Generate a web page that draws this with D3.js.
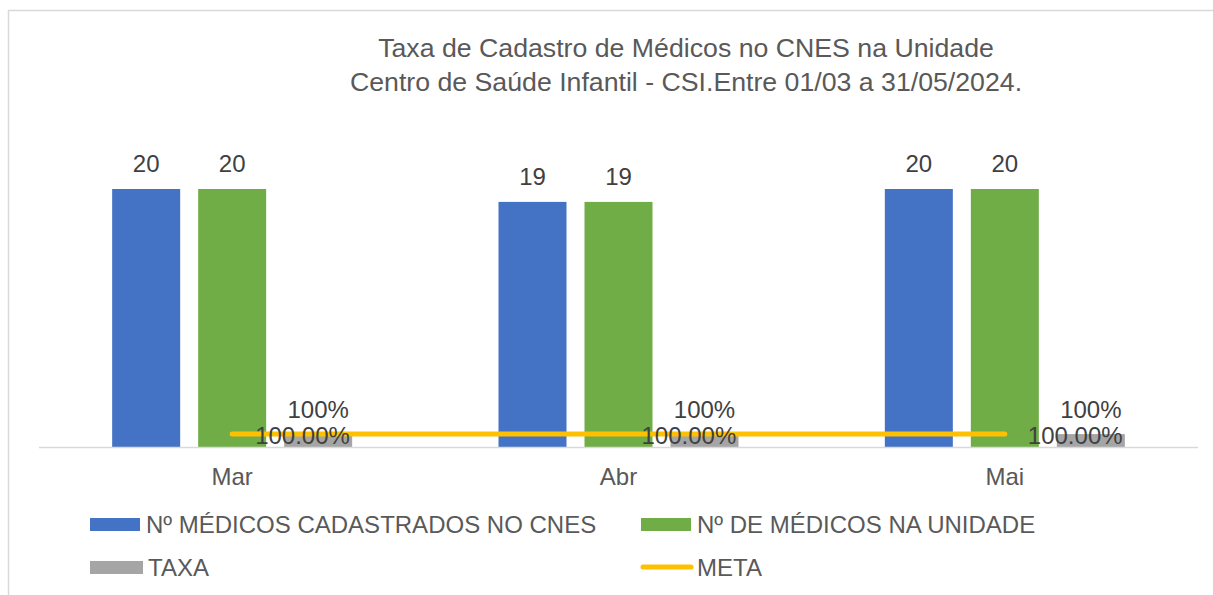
<!DOCTYPE html>
<html><head><meta charset="utf-8">
<script src="https://cdn.jsdelivr.net/npm/d3@7"></script>
<style>body{margin:0;background:#fff;}svg{display:block;font-family:"Liberation Sans",Arial,sans-serif;}</style>
</head><body>
<svg id="c" width="1213" height="595"></svg>
<script>
const categories = ["Mar", "Abr", "Mai"];
const cadastrados = [20, 19, 20];
const naUnidade = [20, 19, 20];
const taxa = [1, 1, 1];
const meta = [1, 1, 1];
const taxaLabels = ["100%", "100%", "100%"];
const metaLabels = ["100.00%", "100.00%", "100.00%"];
const titleLines = ["Taxa de Cadastro de Médicos no CNES na Unidade", "Centro de Saúde Infantil - CSI.Entre 01/03 a 31/05/2024."];
const seriesNames = ["Nº MÉDICOS CADASTRADOS NO CNES", "Nº DE MÉDICOS NA UNIDADE", "TAXA", "META"];
const colors = ["#4472C4", "#70AD47", "#A5A5A5", "#FFC000"];

const svg = d3.select("#c");
// frame
svg.append("path").attr("d","M8.5,595 L8.5,10.5 L1213,10.5").attr("fill","none").attr("stroke","#d9d9d9").attr("stroke-width",1.5);

svg.append("g").selectAll("text").data(titleLines).join("text")
  .attr("x",686).attr("y",(d,i)=>57+i*34).attr("text-anchor","middle")
  .attr("font-size",26.7).attr("fill","#595959").text(d=>d);

const x = d3.scaleBand().domain(categories).range([39,1198]);
const y = d3.scaleLinear().domain([0,25]).range([447,124.5]);
const groupW = 240;
const inner = d3.scaleBand().domain([0,1,2])
  .range([(x.bandwidth()-groupW)/2,(x.bandwidth()+groupW)/2]).paddingInner(18/86).paddingOuter(0);

const barSeries = [cadastrados, naUnidade, taxa];
barSeries.forEach((vals, si) => {
  const g = svg.append("g");
  g.selectAll("rect").data(vals).join("rect")
    .attr("x",(d,i)=>x(categories[i])+inner(si)).attr("width",inner.bandwidth())
    .attr("y",d=>y(d)).attr("height",d=>y(0)-y(d)).attr("fill",colors[si]);
});

// axis line
svg.append("line").attr("x1",39).attr("x2",1198).attr("y1",447.5).attr("y2",447.5).attr("stroke","#d9d9d9").attr("stroke-width",1.5);
const xAxis = svg.append("g").attr("transform","translate(0,447)")
  .call(d3.axisBottom(x).tickSize(0).tickPadding(21));
xAxis.select(".domain").remove();
xAxis.selectAll("text").attr("font-size",24).attr("fill","#595959").attr("font-family","Liberation Sans, Arial, sans-serif");

// value labels
[cadastrados, naUnidade].forEach((vals, si) => {
  svg.append("g").selectAll("text").data(vals).join("text")
    .attr("x",(d,i)=>x(categories[i])+inner(si)+inner.bandwidth()/2)
    .attr("y",d=>y(d)-17).attr("text-anchor","middle")
    .attr("font-size",24).attr("fill","#404040").text(d=>d);
});

// meta line
const line = d3.line().x((d,i)=>x(categories[i])+x.bandwidth()/2).y(d=>y(d));
svg.append("path").datum(meta).attr("d",line).attr("fill","none")
  .attr("stroke",colors[3]).attr("stroke-width",5).attr("stroke-linecap","round");

svg.append("g").selectAll("text").data(taxa).join("text")
  .attr("x",(d,i)=>x(categories[i])+inner(2)+inner.bandwidth()/2)
  .attr("y",d=>y(d)-16).attr("text-anchor","middle")
  .attr("font-size",24).attr("fill","#404040").text((d,i)=>taxaLabels[i]);

svg.append("g").selectAll("text").data(meta).join("text")
  .attr("x",(d,i)=>x(categories[i])+x.bandwidth()/2+23)
  .attr("y",d=>y(d)+10)
  .attr("font-size",24).attr("fill","#404040").text((d,i)=>metaLabels[i]);

// legend
const leg = [
  {x:90, y:524, i:0},
  {x:641, y:524, i:1},
  {x:90, y:567, i:2},
  {x:641, y:567, i:3}
];
const lg = svg.append("g");
leg.forEach(l => {
  if (l.i < 3) {
    lg.append("rect").attr("x",l.x).attr("y",l.y-6).attr("width",l.i===2?53:50).attr("height",13).attr("fill",colors[l.i]);
  } else {
    lg.append("line").attr("x1",l.x+2).attr("x2",l.x+50).attr("y1",l.y).attr("y2",l.y)
      .attr("stroke",colors[3]).attr("stroke-width",5).attr("stroke-linecap","round");
  }
  lg.append("text").attr("x",l.x+(l.i===2?58:56)).attr("y",l.y+9)
    .attr("font-size",24).attr("fill","#595959").text(seriesNames[l.i]);
});
</script>
</body></html>
